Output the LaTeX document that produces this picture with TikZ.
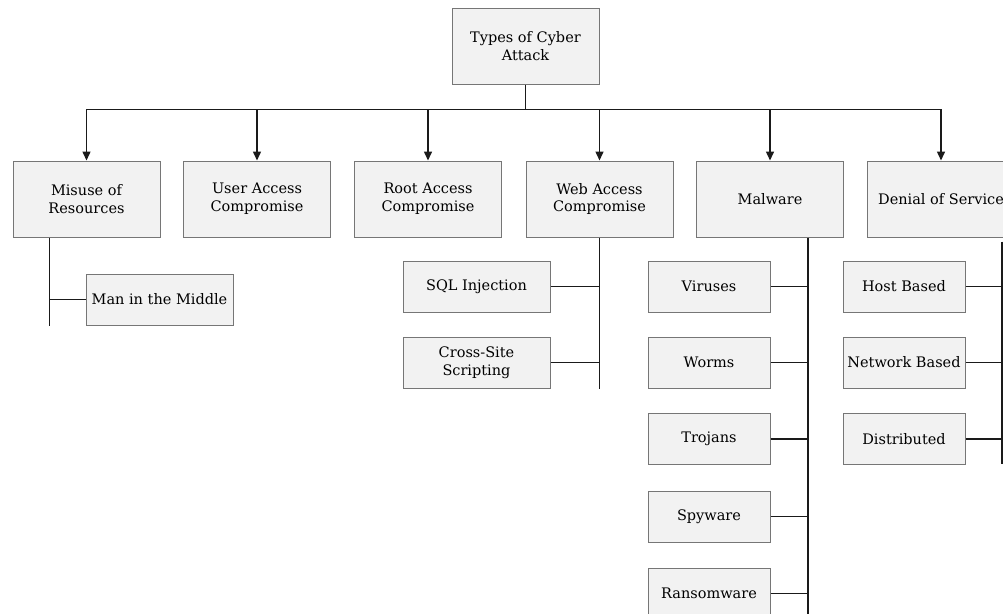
\documentclass[tikz,border=0pt]{standalone}
\usepackage{fontspec}
\setmainfont{DejaVu Serif}
\usetikzlibrary{arrows.meta}
\definecolor{boxfill}{HTML}{F2F2F2}
\definecolor{boxline}{HTML}{767676}
\definecolor{wirecol}{HTML}{1A1A1A}
\tikzset{
  catbox/.style={draw=boxline, fill=boxfill, line width=1pt, minimum width=147pt,
    minimum height=76pt, align=center, inner sep=0pt, font=\fontsize{14.5}{17.7}\selectfont},
  leafbox/.style={catbox, minimum width=122pt, minimum height=51pt},
  wideleaf/.style={leafbox, minimum width=147pt},
  wire/.style={draw=wirecol, line width=1.5pt},
  down/.style={wire, -{Triangle[width=8pt,length=9pt]}}
}
\begin{document}
\begin{tikzpicture}[x=1pt, y=-1pt]
  \useasboundingbox (0,0) rectangle (1003,613);
  \clip (0,0) rectangle (1003,613);
  % top level
  \node[catbox] (root) at (525.5,46) {Types of Cyber\\Attack};
  \node[catbox] (misuse) at (86.5,199) {Misuse of\\Resources};
  \node[catbox] (user) at (257,199) {User Access\\Compromise};
  \node[catbox] (rootacc) at (428,199) {Root Access\\Compromise};
  \node[catbox] (web) at (599.5,199) {Web Access\\Compromise};
  \node[catbox] (malware) at (770,199) {Malware};
  \node[catbox] (dos) at (941,199) {Denial of Service};
  \path (root.south) ++(0,25) coordinate (bus);
  \draw[wire] (root.south) -- (bus);
  \foreach \k in {misuse,user,rootacc,web,malware,dos}
    \draw[down] (bus) -| (\k.north);
  % sub types
  \node[wideleaf] (mitm) at (159.5,299.5) {Man in the Middle};
  \node[wideleaf] (sql) at (476.5,286.5) {SQL Injection};
  \node[wideleaf] (xss) at (476.5,362.5) {Cross-Site\\Scripting};
  \node[leafbox] (virus) at (709,286.5) {Viruses};
  \node[leafbox] (worm) at (709,362.5) {Worms};
  \node[leafbox] (trojan) at (709,439) {Trojans};
  \node[leafbox] (spy) at (709,516.5) {Spyware};
  \node[leafbox] (ransom) at (709,593.5) {Ransomware};
  \node[leafbox] (host) at (904,286.5) {Host Based};
  \node[leafbox] (net) at (904,362.5) {Network Based};
  \node[leafbox] (ddos) at (904,439) {Distributed};
  % trunks
  \path (misuse.south west) ++(37,0) coordinate (mt);
  \draw[wire] (mt) -- ++(0,88);
  \draw[wire] (mitm.west) -- (mitm.west -| mt);
  \draw[wire] (web.south) -- ++(0,151);
  \foreach \k in {sql,xss}
    \draw[wire] (\k.east) -- (\k.east -| web.south);
  \path (malware.south east) ++(-36,0) coordinate (wt);
  \draw[wire] (wt) -- ++(0,380);
  \foreach \k in {virus,worm,trojan,spy,ransom}
    \draw[wire] (\k.east) -- (\k.east -| wt);
  \path (dos.south) ++(61,4) coordinate (dt);
  \draw[wire] (dt) -- ++(0,222);
  \foreach \k in {host,net,ddos}
    \draw[wire] (\k.east) -- (\k.east -| dt);
\end{tikzpicture}
\end{document}
